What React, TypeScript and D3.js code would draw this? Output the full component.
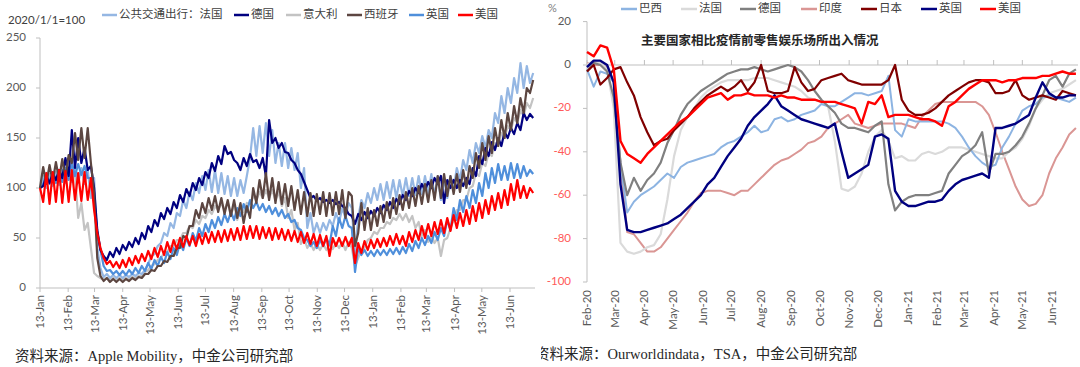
import React from 'react';
import * as d3 from 'd3';

// ---- left chart: Apple Mobility public transit, 2020/1/1=100
// two readings per week (peak / trough), starting 13 Jan 2020
const leftNames = ['公共交通出行：法国', '德国', '意大利', '西班牙', '英国', '美国'];

const frTransit = [100,112, 100,114, 102,116, 103,118, 105,120, 106,122, 105,120, 104,118, 90,110, 40,20, 11,14, 10,13, 10,13, 10,13, 11,14, 12,15, 14,18, 24,32, 34,42, 45,55, 52,65, 60,75, 72,88, 80,96, 88,105, 95,112, 98,118, 96,118, 95,115, 94,112, 92,110, 92,108, 95,112, 130,160, 132,162, 135,165, 132,158, 125,145, 122,145, 120,140, 118,135, 100,120, 60,75, 55,65, 55,65, 58,68, 62,75, 66,80, 70,85, 80,32, 70,88, 80,95, 85,100, 88,104, 88,106, 90,108, 90,108, 92,110, 92,110, 93,112, 94,112, 94,114, 92,112, 88,110, 90,112, 100,120, 108,128, 118,138, 125,145, 135,152, 140,158, 150,175, 165,192, 175,200, 185,210, 195,225, 200,222, 205,215];
const deTransit = [100,102, 112,105, 115,108, 118,110, 130,112, 158,120, 150,125, 140,118, 122,100, 58,38, 32,28, 36,31, 40,34, 43,38, 46,41, 50,44, 55,49, 62,56, 68,62, 75,69, 80,74, 86,80, 93,86, 99,92, 105,98, 110,103, 116,110, 125,117, 132,124, 142,134, 136,128, 125,118, 130,122, 134,126, 128,120, 130,112, 168,145, 150,140, 145,136, 135,128, 125,118, 114,106, 98,90, 92,87, 90,86, 88,85, 88,84, 86,82, 80,74, 72,64, 74,68, 76,70, 77,72, 80,75, 83,78, 86,80, 89,84, 93,88, 97,92, 100,95, 104,98, 106,100, 110,104, 112,85, 108,100, 108,100, 108,102, 110,104, 120,112, 132,124, 140,132, 146,138, 150,142, 156,150, 160,154, 165,158, 175,168, 174,170];
const itTransit = [100,105, 102,108, 104,110, 104,110, 106,112, 108,115, 70,85, 58,65, 40,15, 12,10, 8,10, 8,10, 8,10, 8,10, 9,11, 10,12, 12,16, 18,22, 24,28, 30,35, 36,42, 42,48, 48,55, 55,62, 60,68, 64,72, 70,78, 74,82, 78,85, 78,86, 72,84, 68,80, 76,85, 84,92, 88,96, 90,98, 90,98, 88,96, 82,90, 70,78, 58,65, 44,50, 40,45, 38,44, 38,44, 38,44, 39,45, 40,46, 38,46, 40,22, 30,38, 40,48, 50,56, 54,60, 60,66, 64,70, 68,74, 68,74, 66,72, 60,66, 52,58, 46,52, 45,50, 32,48, 50,60, 68,78, 78,88, 88,100, 102,115, 112,125, 122,135, 132,145, 142,155, 150,162, 158,170, 165,178, 172,185, 180,190];
const esTransit = [100,121, 104,123, 106,126, 108,129, 110,133, 125,155, 128,160, 130,160, 125,95, 30,12, 7,10, 6,9, 6,9, 6,9, 7,10, 8,11, 10,14, 14,18, 17,22, 22,27, 26,32, 32,40, 40,52, 50,62, 62,78, 70,85, 75,90, 78,92, 76,90, 74,88, 72,88, 70,85, 65,82, 70,100, 85,108, 90,115, 88,110, 85,106, 84,104, 82,102, 78,98, 74,96, 72,95, 72,94, 74,96, 72,95, 73,96, 74,98, 70,96, 92,42, 55,85, 58,80, 58,78, 62,82, 66,86, 70,90, 74,93, 78,96, 80,100, 82,102, 84,104, 86,108, 88,112, 90,114, 92,112, 94,114, 96,118, 100,122, 110,135, 120,145, 128,152, 135,160, 142,168, 150,175, 158,182, 165,190, 175,200, 195,208];
const ukTransit = [100,104, 115,104, 116,105, 118,106, 120,108, 125,112, 124,113, 122,110, 110,92, 55,38, 22,17, 18,14, 17,13, 17,13, 18,14, 20,15, 22,17, 25,19, 28,22, 31,25, 36,29, 40,33, 45,38, 50,42, 55,47, 60,52, 64,56, 68,60, 71,63, 74,66, 76,68, 80,72, 84,76, 88,80, 86,78, 84,76, 82,74, 80,72, 78,70, 74,66, 68,60, 58,50, 48,42, 46,40, 48,42, 50,43, 62,52, 70,60, 72,62, 60,16, 40,33, 38,32, 37,32, 38,33, 38,33, 39,34, 40,34, 41,35, 44,37, 47,40, 50,43, 52,45, 56,48, 60,52, 68,58, 80,68, 88,76, 92,80, 98,85, 105,92, 115,100, 120,105, 124,108, 122,108, 125,110, 124,110, 122,112, 118,114];
const usTransit = [100,86, 115,84, 116,86, 118,85, 117,86, 118,88, 115,87, 116,88, 110,78, 55,40, 30,24, 27,21, 26,20, 28,21, 30,23, 32,25, 34,27, 37,29, 40,31, 42,33, 46,36, 48,39, 50,41, 52,43, 52,42, 54,44, 55,45, 56,46, 57,46, 58,47, 59,48, 60,48, 62,49, 62,50, 62,49, 61,50, 60,48, 60,49, 59,48, 58,47, 57,46, 56,45, 55,44, 54,42, 53,42, 52,32, 50,42, 50,42, 51,42, 50,25, 45,35, 47,38, 48,40, 49,41, 50,42, 52,43, 54,44, 52,42, 56,46, 58,48, 62,50, 64,52, 66,54, 68,55, 70,57, 73,60, 75,62, 78,64, 82,67, 85,70, 88,74, 92,78, 95,80, 98,83, 104,88, 108,90, 102,90, 100,95];
const leftYTicks = [0, 50, 100, 150, 200, 250];

// ---- right chart: retail & recreation vs baseline (%), weekly from 15 Feb 2020
const rightNames = ['巴西', '法国', '德国', '印度', '日本', '英国', '美国'];

const brRetail = [-2, -10, -3, -4, -8, -45, -68, -63, -60, -58, -56, -53, -50, -52, -47, -45, -44, -43, -42, -41, -38, -36, -35, -33, -31, -28, -31, -30, -25, -24, -26, -25, -23, -22, -21, -18, -19, -19, -17, -15, -13, -13, -14, -13, -12, -5, -30, -33, -25, -26, -26, -26, -26, -26, -27, -29, -33, -38, -42, -45, -47, -46, -38, -33, -27, -21, -19, -18, -15, -14, -15, -16, -17, -15];
const frRetail = [0, 2, 1, -2, -20, -82, -86, -87, -86, -84, -83, -78, -62, -42, -30, -24, -20, -15, -12, -10, -8, -7, -7, -7, -7, -6, -6, -6, -7, -8, -9, -10, -12, -15, -16, -17, -19, -35, -57, -58, -56, -50, -40, -33, -30, -35, -43, -42, -44, -44, -41, -40, -41, -40, -38, -38, -38, -39, -40, -41, -42, -43, -43, -40, -38, -34, -28, -20, -16, -13, -12, -11, -9, -7];
const deRetail = [-3, 1, 0, -3, -15, -45, -60, -52, -58, -53, -50, -45, -36, -30, -23, -18, -15, -12, -10, -8, -6, -4, -3, -2, -2, -1, -2, -3, -2, -1, 0, -1, -3, -7, -12, -16, -19, -22, -27, -29, -29, -30, -31, -28, -26, -55, -67, -63, -61, -60, -60, -60, -59, -58, -50, -46, -42, -40, -37, -31, -50, -41, -41, -40, -37, -33, -27, -20, -14, -7, -5, -10, -4, -2];
const inRetail = [1, 0, 0, -1, -8, -45, -77, -78, -82, -86, -86, -84, -80, -76, -72, -68, -63, -59, -58, -58, -58, -59, -60, -58, -58, -55, -52, -49, -46, -44, -43, -41, -39, -36, -35, -33, -29, -27, -25, -23, -27, -28, -29, -28, -27, -27, -27, -27, -28, -29, -24, -21, -18, -17, -17, -17, -17, -17, -17, -19, -23, -31, -40, -48, -56, -62, -65, -64, -60, -50, -43, -38, -32, -29];
const jpRetail = [-3, 0, -9, -6, -2, -1, -8, -14, -24, -31, -37, -35, -34, -30, -27, -24, -20, -17, -14, -12, -10, -12, -10, -7, -12, -8, 0, -12, -13, -13, -12, -1, -8, -12, -11, -7, -6, -5, -4, -7, -8, -9, -9, -9, -9, -7, 0, -16, -21, -23, -23, -22, -20, -17, -14, -12, -10, -8, -7, -7, -8, -13, -13, -12, -7, -14, -16, -15, -14, -15, -16, -12, -13, -14];
const ukRetail = [-1, 2, 2, 0, -8, -55, -76, -77, -77, -76, -75, -74, -73, -71, -69, -66, -63, -60, -55, -52, -47, -42, -38, -34, -28, -24, -21, -18, -14, -19, -21, -23, -25, -26, -27, -28, -29, -27, -40, -52, -50, -48, -46, -33, -32, -34, -58, -63, -65, -65, -64, -63, -63, -62, -58, -55, -53, -52, -51, -50, -52, -29, -29, -28, -27, -25, -23, -15, -8, -13, -15, -15, -14, -14];
const usRetail = [6, 4, 9, 8, -2, -35, -41, -43, -45, -41, -38, -35, -32, -29, -26, -24, -21, -18, -15, -14, -13, -16, -14, -14, -13, -14, -14, -14, -15, -14, -15, -15, -16, -16, -16, -17, -17, -17, -18, -19, -20, -27, -17, -18, -14, -24, -23, -23, -23, -24, -25, -25, -26, -28, -19, -17, -14, -11, -9, -7, -7, -7, -8, -7, -7, -6, -6, -6, -5, -5, -4, -3, -4, -4];
const rightYTicks = [-100, -80, -60, -40, -20, 0, 20];

const FONT = "Lato, 'Noto Sans CJK SC', sans-serif";
const SRC_FONT = "'Liberation Serif', 'Noto Sans CJK SC', serif";
const AXIS = '#BFBFBF';
const LABEL = '#595959';

export default function App() {
  const leftStart = new Date(2020, 0, 13);
  const rightStart = new Date(2020, 1, 15);

  const xL = d3.scaleTime().domain([leftStart, new Date(2021, 5, 13)]).range([40, 510]);
  const yL = d3.scaleLinear().domain([0, 250]).range([288, 38]);
  const xR = d3.scaleTime().domain([rightStart, new Date(2021, 5, 15)]).range([587, 1052]);
  const yR = d3.scaleLinear().domain([-100, 20]).range([282, 21.6]);

  // half-week steps on the left, weekly on the right
  const lineL = d3.line<number>()
    .x((_, i) => xL(d3.timeHour.offset(leftStart, i * 84)))
    .y(d => yL(d));
  const lineR = d3.line<number>()
    .x((_, i) => xR(d3.timeDay.offset(rightStart, i * 7)))
    .y(d => yR(d));

  const leftSeries = [
    { data: itTransit, color: '#C3C3C3' },
    { data: frTransit, color: '#95B7E3' },
    { data: ukTransit, color: '#4F8FDB' },
    { data: deTransit, color: '#000080' },
    { data: esTransit, color: '#5C4641' },
    { data: usTransit, color: '#FF0000' },
  ];
  const leftLegendColors = ['#95B7E3', '#000080', '#C3C3C3', '#5C4641', '#4F8FDB', '#FF0000'];
  const leftLegendX = [102, 234, 286, 347, 409, 458];

  const rightSeries = [
    { data: inRetail, color: '#DA9694', w: 2 },
    { data: frRetail, color: '#DADADA', w: 2.2 },
    { data: brRetail, color: '#8DB4E2', w: 2 },
    { data: deRetail, color: '#808080', w: 2.2 },
    { data: jpRetail, color: '#800000', w: 2.2 },
    { data: ukRetail, color: '#000080', w: 2.4 },
    { data: usRetail, color: '#FF0000', w: 2.4 },
  ];
  const rightLegendColors = ['#8DB4E2', '#DADADA', '#808080', '#DA9694', '#800000', '#000080', '#FF0000'];
  const rightLegendX = [621, 681, 740, 801, 861, 921, 980];

  const leftTicks = d3.range(18).map(m => new Date(2020, m, 13));
  const rightTicks = d3.range(17).map(m => new Date(2020, 1 + m, 15));
  const fmtL = d3.timeFormat('%d-%b');
  const fmtR = d3.timeFormat('%b-%y');

  return (
    <div style={{ position: 'absolute', left: 0, top: 0, background: '#fff' }}>
      <svg width={1080} height={367} style={{ display: 'block' }} fontFamily={FONT}>
        <defs>
          <clipPath id="rightClip">
            <rect x={541} y={0} width={539} height={367} />
          </clipPath>
        </defs>
        <rect width={1080} height={367} fill="#fff" />

        {/* ---------- left chart ---------- */}
        <text x={8} y={21} fontSize={11.5} fill="#404040" dominantBaseline="middle">2020/1/1=100</text>
        {leftNames.map((n, i) => (
          <g key={n}>
            <line x1={leftLegendX[i]} x2={leftLegendX[i] + 15} y1={15} y2={15}
              stroke={leftLegendColors[i]} strokeWidth={2.5} />
            <text x={leftLegendX[i] + 17} y={15} fontSize={11.5} fill="#404040" dominantBaseline="middle">{n}</text>
          </g>
        ))}

        <line x1={40} x2={40} y1={yL(250)} y2={yL(0)} stroke={AXIS} />
        <line x1={40} x2={535} y1={yL(0)} y2={yL(0)} stroke={AXIS} />
        {leftYTicks.map(t => (
          <g key={t}>
            <line x1={36} x2={40} y1={yL(t)} y2={yL(t)} stroke={AXIS} />
            <text x={26} y={yL(t)} fontSize={11.5} fill={LABEL} textAnchor="end" dominantBaseline="middle">{t}</text>
          </g>
        ))}
        {leftTicks.map((t, i) => (
          <g key={i}>
            <line x1={xL(t)} x2={xL(t)} y1={yL(0)} y2={yL(0) + 4} stroke={AXIS} />
            <text transform={`translate(${xL(t) + 4},${yL(0) + 7}) rotate(-90)`} fontSize={11.5}
              fill={LABEL} textAnchor="end">{fmtL(t)}</text>
          </g>
        ))}
        {leftSeries.map((s, i) => (
          <path key={i} d={lineL(s.data) || ''} fill="none" stroke={s.color} strokeWidth={2.2}
            strokeLinejoin="round" />
        ))}
        <text x={15} y={361} fontSize={14.5} fill="#262626" fontFamily={SRC_FONT}>资料来源：Apple Mobility，中金公司研究部</text>

        {/* ---------- right chart ---------- */}
        <text x={548} y={9} fontSize={11} fill="#7F7F7F" dominantBaseline="middle">%</text>
        {rightNames.map((n, i) => (
          <g key={n}>
            <line x1={rightLegendX[i]} x2={rightLegendX[i] + 16} y1={9} y2={9}
              stroke={rightLegendColors[i]} strokeWidth={2.5} />
            <text x={rightLegendX[i] + 18} y={9} fontSize={11.5} fill="#404040" dominantBaseline="middle">{n}</text>
          </g>
        ))}
        <text x={641} y={42} fontSize={12.5} fontWeight="bold" fill="#262626" dominantBaseline="middle">
          主要国家相比疫情前零售娱乐场所出入情况
        </text>

        <line x1={587} x2={587} y1={yR(20)} y2={yR(-100)} stroke={AXIS} />
        {rightYTicks.map(t => (
          <g key={t}>
            <line x1={583} x2={587} y1={yR(t)} y2={yR(t)} stroke={AXIS} />
            <text x={571} y={yR(t)} fontSize={11.5} fill={t < 0 ? '#FF5A5A' : LABEL}
              textAnchor="end" dominantBaseline="middle">{t}</text>
          </g>
        ))}
        <line x1={587} x2={1078} y1={yR(0)} y2={yR(0)} stroke={AXIS} />
        {rightTicks.map((t, i) => (
          <g key={i}>
            <line x1={xR(t)} x2={xR(t)} y1={yR(0) - 5} y2={yR(0)} stroke={AXIS} />
            <text transform={`translate(${xR(t) + 4},${yR(-100) + 8}) rotate(-90)`} fontSize={11.5}
              fill={LABEL} textAnchor="end">{fmtR(t)}</text>
          </g>
        ))}
        {rightSeries.map((s, i) => (
          <path key={i} d={lineR(s.data) || ''} fill="none" stroke={s.color} strokeWidth={s.w}
            strokeLinejoin="round" />
        ))}
        <g clipPath="url(#rightClip)">
          <text x={535} y={359} fontSize={14.5} fill="#262626" fontFamily={SRC_FONT}>资料来源：Ourworldindata，TSA，中金公司研究部</text>
        </g>
      </svg>
    </div>
  );
}
